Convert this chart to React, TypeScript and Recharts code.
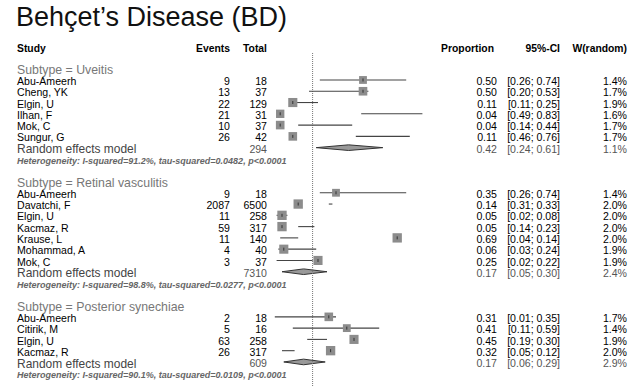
import { ComposedChart, XAxis, YAxis, Scatter, Line, Area, ReferenceLine } from "recharts";

const FONT = "'Liberation Sans', Arial, sans-serif";

const title = "Behçet’s Disease (BD)";
const columnHeaders = ["Study", "Events", "Total", "Proportion", "95%-CI", "W(random)"];
const subtypes = ["Uveitis", "Retinal vasculitis", "Posterior synechiae"];

const uveitis = [
  { study: "Abu-Ameerh", events: 9, total: 18, prop: 0.5, lo: 0.26, hi: 0.74, w: 1.4 },
  { study: "Cheng, YK", events: 13, total: 37, prop: 0.5, lo: 0.2, hi: 0.53, w: 1.7 },
  { study: "Elgin, U", events: 22, total: 129, prop: 0.11, lo: 0.11, hi: 0.25, w: 1.9 },
  { study: "Ilhan, F", events: 21, total: 31, prop: 0.04, lo: 0.49, hi: 0.83, w: 1.6 },
  { study: "Mok, C", events: 10, total: 37, prop: 0.04, lo: 0.14, hi: 0.44, w: 1.7 },
  { study: "Sungur, G", events: 26, total: 42, prop: 0.11, lo: 0.46, hi: 0.76, w: 1.7 },
];

const retinal = [
  { study: "Abu-Ameerh", events: 9, total: 18, prop: 0.35, lo: 0.26, hi: 0.74, w: 1.4 },
  { study: "Davatchi, F", events: 2087, total: 6500, prop: 0.14, lo: 0.31, hi: 0.33, w: 2.0 },
  { study: "Elgin, U", events: 11, total: 258, prop: 0.05, lo: 0.02, hi: 0.08, w: 2.0 },
  { study: "Kacmaz, R", events: 59, total: 317, prop: 0.05, lo: 0.14, hi: 0.23, w: 2.0 },
  { study: "Krause, L", events: 11, total: 140, prop: 0.69, lo: 0.04, hi: 0.14, w: 2.0 },
  { study: "Mohammad, A", events: 4, total: 40, prop: 0.06, lo: 0.03, hi: 0.24, w: 1.9 },
  { study: "Mok, C", events: 3, total: 37, prop: 0.25, lo: 0.02, hi: 0.22, w: 1.9 },
];

const posterior = [
  { study: "Abu-Ameerh", events: 2, total: 18, prop: 0.31, lo: 0.01, hi: 0.35, w: 1.7 },
  { study: "Citirik, M", events: 5, total: 16, prop: 0.41, lo: 0.11, hi: 0.59, w: 1.4 },
  { study: "Elgin, U", events: 63, total: 258, prop: 0.45, lo: 0.19, hi: 0.3, w: 1.9 },
  { study: "Kacmaz, R", events: 26, total: 317, prop: 0.32, lo: 0.05, hi: 0.12, w: 2.0 },
];

const pooledTotal = [294, 7310, 609];
const pooledProp = [0.42, 0.17, 0.17];
const pooledLo = [0.24, 0.05, 0.06];
const pooledHi = [0.61, 0.3, 0.29];
const pooledWeight = [1.1, 2.4, 2.9];
const iSquared = ["91.2%", "98.8%", "90.1%"];
const tauSquared = ["0.0482", "0.0277", "0.0109"];
const pValues = ["p<0.0001", "p<0.0001", "p<0.0001"];
const refValue = 0.22;

// layout (pixels / row units)
const COL_STUDY = 17;
const COL_EVENTS = 230;
const COL_TOTAL = 267;
const COL_PROP = 497;
const COL_CI = 560;
const COL_W = 627;
const Y_TOP = -6.09;
const Y_BOTTOM = 28.22;
const REF_START = -1.39;

const fmt = (v: number) => v.toFixed(2);
const ci = (lo: number, hi: number) => `[${fmt(lo)}; ${fmt(hi)}]`;

const groups = [uveitis, retinal, posterior];
const textRows: any[] = [];
const studyPoints: any[] = [];
const ciSegments: any[][] = [];
const diamonds: any[][] = [];

let row = 0;
groups.forEach((g, gi) => {
  textRows.push({ x: 0, y: row, kind: "subtype", label: `Subtype = ${subtypes[gi]}` });
  row++;
  g.forEach((s) => {
    textRows.push({ x: 0, y: row, kind: "study", ...s });
    studyPoints.push({ x: s.prop, y: row, w: s.w });
    ciSegments.push([
      { x: s.lo, y: row },
      { x: s.hi, y: row },
    ]);
    row++;
  });
  textRows.push({
    x: 0,
    y: row,
    kind: "pooled",
    total: pooledTotal[gi],
    prop: pooledProp[gi],
    lo: pooledLo[gi],
    hi: pooledHi[gi],
    w: pooledWeight[gi],
  });
  diamonds.push([
    { x: pooledLo[gi], band: [row, row] },
    { x: pooledProp[gi], band: [row - 0.25, row + 0.25] },
    { x: pooledHi[gi], band: [row, row] },
  ]);
  row++;
  textRows.push({
    x: 0,
    y: row,
    kind: "het",
    label: `Heterogeneity: I-squared=${iSquared[gi]}, tau-squared=${tauSquared[gi]}, ${pValues[gi]}`,
  });
  row += 2;
});

function Txt({ x, y, anchor = "start", size = 11.5, weight = "normal", italic = false, fill = "#000", sx = 0.92, children }: any) {
  return (
    <text
      transform={`translate(${x} ${y}) scale(${sx} 1)`}
      textAnchor={anchor}
      fontSize={size}
      fontWeight={weight}
      fontStyle={italic ? "italic" : "normal"}
      fill={fill}
      fontFamily={FONT}
    >
      {children}
    </text>
  );
}

function RowText(props: any) {
  const { cy, payload } = props;
  const p = payload;
  if (p.kind === "subtype") {
    return <Txt x={COL_STUDY} y={cy + 5.8} size={13.4} fill="#777">{p.label}</Txt>;
  }
  if (p.kind === "het") {
    return <Txt x={COL_STUDY} y={cy + 4.6} size={9.2} weight="bold" italic fill="#666" sx={0.98}>{p.label}</Txt>;
  }
  if (p.kind === "pooled") {
    const c = "#555";
    return (
      <g>
        <Txt x={COL_STUDY} y={cy + 5.6} size={13} fill="#444">Random effects model</Txt>
        <Txt x={COL_TOTAL} y={cy + 5.1} anchor="end" fill={c}>{p.total}</Txt>
        <Txt x={COL_PROP} y={cy + 5.1} anchor="end" fill={c}>{fmt(p.prop)}</Txt>
        <Txt x={COL_CI} y={cy + 5.1} anchor="end" fill={c}>{ci(p.lo, p.hi)}</Txt>
        <Txt x={COL_W} y={cy + 5.1} anchor="end" fill={c}>{`${p.w.toFixed(1)}%`}</Txt>
      </g>
    );
  }
  return (
    <g>
      <Txt x={COL_STUDY} y={cy + 5.1}>{p.study}</Txt>
      <Txt x={COL_EVENTS} y={cy + 5.1} anchor="end">{p.events}</Txt>
      <Txt x={COL_TOTAL} y={cy + 5.1} anchor="end">{p.total}</Txt>
      <Txt x={COL_PROP} y={cy + 5.1} anchor="end">{fmt(p.prop)}</Txt>
      <Txt x={COL_CI} y={cy + 5.1} anchor="end">{ci(p.lo, p.hi)}</Txt>
      <Txt x={COL_W} y={cy + 5.1} anchor="end">{`${p.w.toFixed(1)}%`}</Txt>
    </g>
  );
}

function StudySquare(props: any) {
  const { cx, cy, payload } = props;
  const s = 6.6 * Math.sqrt(payload.w);
  return (
    <g>
      <rect x={cx - s / 2} y={cy - s / 2} width={s} height={s} fill="#8c8c8c" />
      <line x1={cx} x2={cx} y1={cy - 1.5} y2={cy + 1.5} stroke="#333" strokeWidth={1} />
    </g>
  );
}

export default function App() {
  const headerX = [COL_STUDY, COL_EVENTS, COL_TOTAL, COL_PROP - 3, COL_CI, COL_W];
  return (
    <div style={{ position: "absolute", left: 0, top: 0, width: 636, height: 387, background: "#fff" }}>
      <ComposedChart width={636} height={387} margin={{ top: 0, right: 183, bottom: 0, left: 273 }}>
        <XAxis type="number" dataKey="x" domain={[0, 1]} hide />
        <YAxis type="number" dataKey="y" domain={[Y_TOP, Y_BOTTOM]} reversed hide />
        <ReferenceLine
          segment={[
            { x: refValue, y: REF_START },
            { x: refValue, y: Y_BOTTOM },
          ]}
          stroke="#777"
          strokeDasharray="1 1"
        />
        {ciSegments.map((seg, i) => (
          <Line
            key={`ci-${i}`}
            data={seg}
            dataKey="y"
            type="linear"
            stroke="#444"
            strokeWidth={1.1}
            dot={false}
            activeDot={false}
            isAnimationActive={false}
          />
        ))}
        {diamonds.map((d, i) => (
          <Area
            key={`pool-${i}`}
            data={d}
            dataKey="band"
            type="linear"
            stroke="#333"
            strokeWidth={1}
            fill="#999"
            fillOpacity={1}
            dot={false}
            activeDot={false}
            isAnimationActive={false}
          />
        ))}
        <Scatter data={studyPoints} shape={StudySquare} isAnimationActive={false} />
        <Scatter data={textRows} shape={RowText} isAnimationActive={false} />
      </ComposedChart>
      <svg width={636} height={60} style={{ position: "absolute", left: 0, top: 0, pointerEvents: "none" }}>
        <text x={16} y={26} fontSize={27} fontFamily={FONT} fill="#111">
          {title}
        </text>
        {columnHeaders.map((h, i) => (
          <Txt key={h} x={headerX[i]} y={52} anchor={i === 0 ? "start" : "end"} weight="bold" sx={0.9}>
            {h}
          </Txt>
        ))}
      </svg>
    </div>
  );
}
